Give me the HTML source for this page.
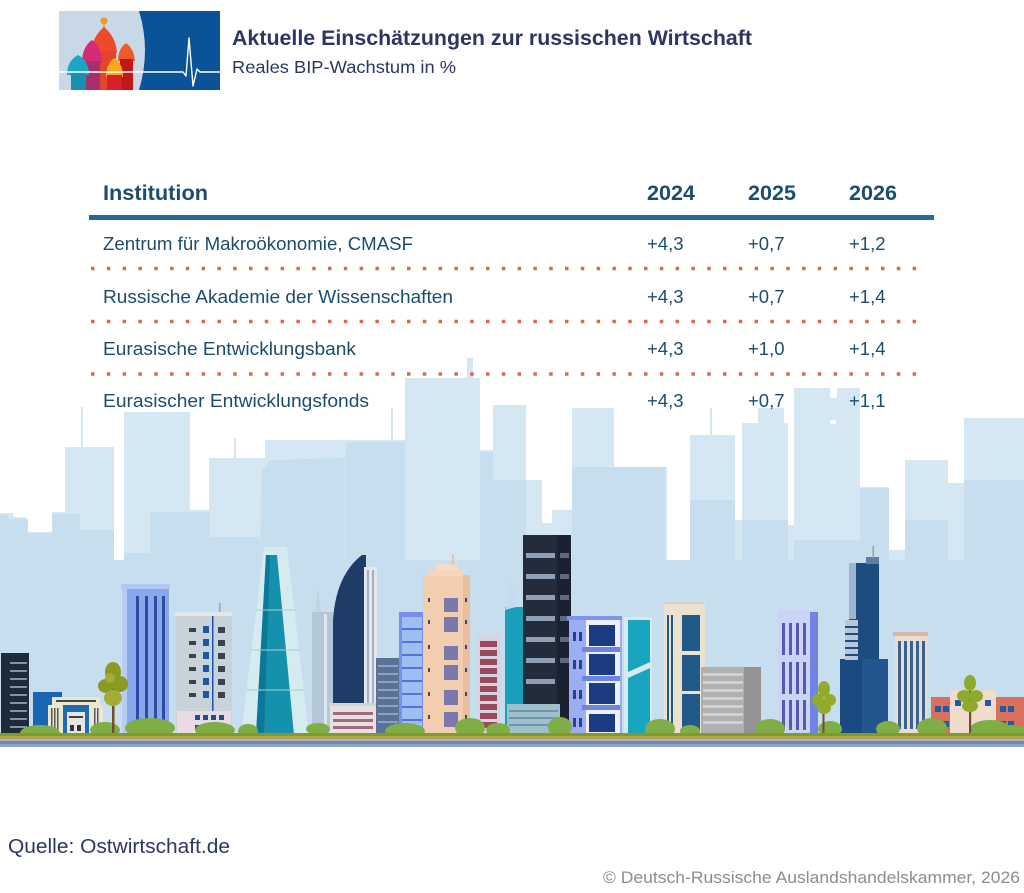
<!DOCTYPE html>
<html>
<head>
<meta charset="utf-8">
<style>
html,body{margin:0;padding:0;background:#fff;}
body{width:1024px;height:893px;overflow:hidden;}
svg{display:block;}
text{font-family:"Liberation Sans",Arial,sans-serif;}
</style>
</head>
<body>
<svg width="1024" height="893" viewBox="0 0 1024 893" xmlns="http://www.w3.org/2000/svg">
<rect width="1024" height="893" fill="#ffffff"/>

<!-- ===== Logo ===== -->
<defs>
<clipPath id="lc"><rect x="59" y="11" width="161" height="79"/></clipPath>
</defs>
<g clip-path="url(#lc)">
<rect x="59" y="11" width="161" height="79" fill="#0b5398"/>
<path d="M59,11 H139 Q151,50 139,90 H59 Z" fill="#c9d8e7"/>
<!-- tall red -->
<circle cx="104" cy="21" r="3.6" fill="#f39a2a"/>
<rect x="103.3" y="23" width="1.4" height="6" fill="#f39a2a"/>
<path d="M91,53 Q92,37 104,27 Q116,37 117,53 Z" fill="#ec4a2a"/>
<rect x="93" y="51" width="23" height="39" fill="#e2452b"/>
<!-- magenta -->
<path d="M82,63 Q82,47 92,40 Q102,47 102,63 Z" fill="#d42a78"/>
<rect x="84" y="61" width="16" height="29" fill="#a8306a"/>
<!-- teal -->
<path d="M67,75 Q67,61 78,55 Q89,61 89,75 Z" fill="#1aa6c4"/>
<rect x="71" y="73" width="15" height="17" fill="#1a8fb0"/>
<!-- right red -->
<path d="M118,61 Q118,49 126,43 Q134,49 135,61 Z" fill="#ef5a2a"/>
<rect x="120" y="59" width="13" height="31" fill="#c01818"/>
<!-- orange -->
<path d="M106,77 Q106,64 114.5,58 Q123,64 123,77 Z" fill="#f8a820"/>
<rect x="107" y="75" width="15" height="15" fill="#d8202a"/>
<!-- heartbeat -->
<polyline points="59,72 183,72 186,76 189,38 193,86 197,69 200,72 220,72" fill="none" stroke="#ffffff" stroke-width="1.4" stroke-linejoin="round"/>
</g>

<!-- ===== Title ===== -->
<text x="232" y="45" font-size="21" font-weight="bold" fill="#2e3563" textLength="520" lengthAdjust="spacingAndGlyphs">Aktuelle Einschätzungen zur russischen Wirtschaft</text>
<text x="232" y="73" font-size="17.5" fill="#2e3563" textLength="224" lengthAdjust="spacingAndGlyphs">Reales BIP-Wachstum in %</text>

<!-- ===== City background skyline ===== -->
<g fill="#d4e7f2">
<rect x="0" y="513" width="13" height="222"/>
<rect x="13" y="517" width="13" height="218"/>
<rect x="26" y="532" width="30" height="203"/>
<rect x="52" y="512" width="13" height="223"/>
<rect x="65" y="447" width="49" height="288"/>
<rect x="81" y="407" width="2" height="40"/>
<rect x="124" y="412" width="66" height="323"/>
<rect x="150" y="510" width="60" height="225"/>
<rect x="209" y="458" width="56" height="277"/>
<rect x="234" y="438" width="2" height="20"/>
<rect x="265" y="440" width="140" height="295"/>
<rect x="391" y="408" width="2" height="32"/>
<rect x="405" y="378" width="75" height="357"/>
<rect x="467" y="358" width="6" height="20"/>
<rect x="480" y="450" width="13" height="285"/>
<rect x="493" y="405" width="33" height="330"/>
<rect x="526" y="480" width="16" height="255"/>
<rect x="552" y="510" width="20" height="225"/>
<rect x="542" y="523" width="10" height="212"/>
<rect x="572" y="408" width="42" height="327"/>
<rect x="614" y="467" width="53" height="268"/>
<rect x="667" y="560" width="23" height="175"/>
<rect x="690" y="435" width="45" height="300"/>
<rect x="710" y="408" width="2" height="27"/>
<rect x="735" y="520" width="7" height="215"/>
<rect x="742" y="423" width="46" height="312"/>
<rect x="758" y="408" width="26" height="15"/>
<rect x="788" y="525" width="6" height="210"/>
<rect x="794" y="388" width="66" height="347"/>
<rect x="860" y="487" width="29" height="248"/>
<rect x="889" y="550" width="16" height="185"/>
<rect x="905" y="460" width="43" height="275"/>
<rect x="948" y="483" width="16" height="252"/>
<rect x="964" y="418" width="60" height="317"/>
</g>
<rect x="830" y="388" width="7" height="10" fill="#ffffff"/>
<rect x="830" y="420" width="6" height="4" fill="#ffffff"/>
<!-- darker front layer -->
<g fill="#c6deed">
<rect x="0" y="560" width="1024" height="175"/>
<rect x="0" y="515" width="8" height="50"/>
<rect x="8" y="519" width="20" height="50"/>
<rect x="28" y="533" width="24" height="30"/>
<rect x="52" y="514" width="28" height="50"/>
<rect x="80" y="530" width="34" height="35"/>
<rect x="124" y="553" width="26" height="10"/>
<rect x="150" y="512" width="60" height="50"/>
<rect x="210" y="537" width="50" height="30"/>
<polygon points="260,560 262,470 270,460 345,458 345,560"/>
<rect x="346" y="442" width="59" height="120"/>
<rect x="480" y="452" width="13" height="110"/>
<rect x="493" y="480" width="33" height="80"/>
<rect x="572" y="467" width="93" height="95"/>
<rect x="690" y="500" width="45" height="60"/>
<rect x="742" y="520" width="46" height="40"/>
<rect x="794" y="540" width="66" height="20"/>
<rect x="860" y="488" width="29" height="72"/>
<rect x="905" y="520" width="43" height="40"/>
<rect x="964" y="480" width="60" height="80"/>
</g>

<!-- ===== Foreground buildings ===== -->
<!-- 1 dark -->
<rect x="1" y="653" width="28" height="82" fill="#1f2a3a"/>
<g fill="#8294a8">
<rect x="10" y="662" width="17" height="2"/><rect x="10" y="670" width="17" height="2"/><rect x="10" y="678" width="17" height="2"/>
<rect x="10" y="686" width="17" height="2"/><rect x="10" y="694" width="17" height="2"/><rect x="10" y="702" width="17" height="2"/>
<rect x="10" y="710" width="17" height="2"/><rect x="10" y="718" width="17" height="2"/><rect x="10" y="726" width="17" height="2"/>
</g>
<!-- 2 blue -->
<rect x="33" y="692" width="29" height="43" fill="#1a66b4"/>
<!-- 3 cream low -->
<rect x="52" y="697" width="48" height="38" fill="#ebe8d0"/>
<rect x="48" y="705" width="55" height="30" fill="#ebe8d0"/>
<rect x="56" y="700" width="40" height="2" fill="#45484f"/>
<rect x="51" y="708" width="1.5" height="24" fill="#55585f"/><rect x="54" y="708" width="1.5" height="24" fill="#55585f"/><rect x="57" y="708" width="1.5" height="24" fill="#55585f"/>
<rect x="94" y="708" width="1.5" height="24" fill="#55585f"/><rect x="97" y="708" width="1.5" height="24" fill="#55585f"/>
<rect x="63" y="705" width="26" height="30" fill="#1e6db2"/>
<rect x="67" y="712" width="18" height="23" fill="#e6e6e0"/>
<rect x="69" y="716" width="14" height="2" fill="#3a3d44"/>
<rect x="70" y="725" width="4" height="6" fill="#33363c"/><rect x="77" y="725" width="4" height="6" fill="#33363c"/>
<!-- 5 blue tall -->
<rect x="122" y="586" width="47" height="149" fill="#8ba7ec"/>
<rect x="121" y="584" width="49" height="5" fill="#b2c6f4"/>
<rect x="122" y="589" width="5" height="146" fill="#b8cbf5"/>
<g fill="#2a4ea4">
<rect x="136" y="596" width="3" height="136"/><rect x="145" y="596" width="3" height="136"/>
<rect x="154" y="596" width="3" height="136"/><rect x="162" y="596" width="3" height="136"/>
</g>
<!-- 6 grey windows -->
<rect x="176" y="615" width="56" height="120" fill="#c7d2d9"/>
<rect x="175" y="612" width="57" height="4" fill="#e2e8ec"/>
<rect x="219" y="603" width="1.5" height="9" fill="#9aa4ad"/>
<rect x="212" y="616" width="1.5" height="95" fill="#1b57a6"/>
<g>
<rect x="189" y="628" width="7" height="4" fill="#3c424b"/><rect x="203" y="626" width="6" height="7" fill="#1b57a6"/><rect x="218" y="627" width="7" height="6" fill="#3a4350"/>
<rect x="189" y="641" width="7" height="4" fill="#3c424b"/><rect x="203" y="639" width="6" height="7" fill="#1b57a6"/><rect x="218" y="640" width="7" height="6" fill="#3a4350"/>
<rect x="189" y="654" width="7" height="4" fill="#3c424b"/><rect x="203" y="652" width="6" height="7" fill="#1b57a6"/><rect x="218" y="653" width="7" height="6" fill="#3a4350"/>
<rect x="189" y="667" width="7" height="4" fill="#3c424b"/><rect x="203" y="665" width="6" height="7" fill="#1b57a6"/><rect x="218" y="666" width="7" height="6" fill="#3a4350"/>
<rect x="189" y="680" width="7" height="4" fill="#3c424b"/><rect x="203" y="678" width="6" height="7" fill="#1b57a6"/><rect x="218" y="679" width="7" height="6" fill="#3a4350"/>
<rect x="189" y="693" width="7" height="4" fill="#3c424b"/><rect x="203" y="691" width="6" height="7" fill="#1b57a6"/><rect x="218" y="692" width="7" height="6" fill="#3a4350"/>
</g>
<rect x="177" y="711" width="54" height="24" fill="#e9dbe4"/>
<g fill="#1c4f9a">
<rect x="195" y="715" width="5" height="5"/><rect x="203" y="715" width="5" height="5"/><rect x="211" y="715" width="5" height="5"/><rect x="219" y="715" width="5" height="5"/>
<rect x="195" y="725" width="5" height="5"/><rect x="203" y="725" width="5" height="5"/><rect x="211" y="725" width="5" height="5"/><rect x="219" y="725" width="5" height="5"/>
</g>
<!-- 7 teal glass tower -->
<polygon points="241,735 264,547 287,547 309,735" fill="#d6ebf0"/>
<polygon points="256,735 266,555 277,555 294,735" fill="#1591ae"/>
<polygon points="256,735 266,555 270,555 264,735" fill="#0c7897"/>
<g stroke="#9fd2df" stroke-width="1">
<line x1="250" y1="650" x2="300" y2="650"/><line x1="246" y1="690" x2="304" y2="690"/><line x1="256" y1="610" x2="295" y2="610"/>
</g>
<!-- 8 slim grey -->
<rect x="312" y="612" width="21" height="123" fill="#b4c7d7"/>
<polygon points="315,612 318,588 321,612" fill="#c5d3e0"/>
<rect x="324" y="614" width="3" height="120" fill="#dce6ee"/>
<!-- 9 dark curved -->
<path d="M333,735 V620 Q336,575 362,555 H366 V735 Z" fill="#1e3c67"/>
<rect x="364" y="567" width="13" height="150" fill="#e4e8ee"/>
<rect x="367" y="570" width="2" height="140" fill="#a5b0bd"/>
<rect x="372" y="570" width="2" height="140" fill="#a5b0bd"/>
<!-- 10 low pink -->
<rect x="329" y="703" width="49" height="3" fill="#d0d5db"/>
<rect x="330" y="706" width="47" height="29" fill="#e8e0e0"/>
<g fill="#9d6c7b"><rect x="333" y="712" width="40" height="3"/><rect x="333" y="719" width="40" height="3"/><rect x="333" y="726" width="40" height="3"/></g>
<!-- 11 blue grey -->
<rect x="376" y="658" width="24" height="77" fill="#5a7298"/>
<g fill="#8ea2c0">
<rect x="378" y="665" width="20" height="2"/><rect x="378" y="673" width="20" height="2"/><rect x="378" y="681" width="20" height="2"/>
<rect x="378" y="689" width="20" height="2"/><rect x="378" y="697" width="20" height="2"/><rect x="378" y="705" width="20" height="2"/>
<rect x="378" y="713" width="20" height="2"/><rect x="378" y="721" width="20" height="2"/>
</g>
<!-- 12 purple blue -->
<rect x="399" y="612" width="29" height="123" fill="#7a8def"/>
<rect x="402" y="617" width="20" height="115" fill="#9cc0ee"/>
<g fill="#5a6ee0">
<rect x="402" y="628" width="20" height="2"/><rect x="402" y="641" width="20" height="2"/><rect x="402" y="654" width="20" height="2"/>
<rect x="402" y="667" width="20" height="2"/><rect x="402" y="680" width="20" height="2"/><rect x="402" y="693" width="20" height="2"/>
<rect x="402" y="706" width="20" height="2"/><rect x="402" y="719" width="20" height="2"/>
</g>
<!-- 13 peach -->
<rect x="423" y="575" width="47" height="160" fill="#f2cdb0"/>
<rect x="429" y="569" width="35" height="7" fill="#f4d6bd"/>
<rect x="436" y="564" width="21" height="6" fill="#f6dcc6"/>
<rect x="452" y="554" width="2" height="11" fill="#e9c3a5"/>
<rect x="463" y="575" width="7" height="160" fill="#e9bfa0"/>
<g fill="#7b78ac">
<rect x="444" y="598" width="14" height="14"/><rect x="444" y="617" width="14" height="15"/><rect x="444" y="646" width="14" height="14"/>
<rect x="444" y="665" width="14" height="15"/><rect x="444" y="690" width="14" height="15"/><rect x="444" y="712" width="14" height="15"/>
</g>
<g fill="#3d4a6a">
<rect x="428" y="598" width="2" height="4"/><rect x="428" y="620" width="2" height="4"/><rect x="428" y="645" width="2" height="4"/><rect x="428" y="668" width="2" height="4"/><rect x="428" y="692" width="2" height="4"/><rect x="428" y="715" width="2" height="4"/>
<rect x="465" y="598" width="2" height="4"/><rect x="465" y="620" width="2" height="4"/><rect x="465" y="645" width="2" height="4"/><rect x="465" y="668" width="2" height="4"/><rect x="465" y="692" width="2" height="4"/><rect x="465" y="715" width="2" height="4"/>
</g>
<!-- 14 maroon -->
<rect x="477" y="635" width="23" height="100" fill="#d8d3e3"/>
<g fill="#9a4b5b">
<rect x="480" y="641" width="17" height="6"/><rect x="480" y="650" width="17" height="6"/><rect x="480" y="659" width="17" height="6"/>
<rect x="480" y="668" width="17" height="6"/><rect x="480" y="677" width="17" height="6"/><rect x="480" y="686" width="17" height="6"/>
<rect x="480" y="695" width="17" height="6"/><rect x="480" y="704" width="17" height="6"/><rect x="480" y="713" width="17" height="6"/>
<rect x="480" y="722" width="17" height="6"/>
</g>
<!-- 15 teal -->
<rect x="505" y="607" width="35" height="128" fill="#1b9fba"/>
<polygon points="505,610 511,582 516,607" fill="#c8d8f0"/>
<!-- 16 dark tower -->
<rect x="523" y="535" width="48" height="200" fill="#232c3b"/>
<rect x="557" y="535" width="14" height="200" fill="#1b2130"/>
<g fill="#8d9fb5">
<rect x="526" y="553" width="29" height="5"/><rect x="526" y="574" width="29" height="5"/><rect x="526" y="595" width="29" height="5"/>
<rect x="526" y="616" width="29" height="5"/><rect x="526" y="637" width="29" height="5"/><rect x="526" y="658" width="29" height="5"/>
<rect x="526" y="679" width="29" height="5"/>
</g>
<g fill="#5d6b80">
<rect x="560" y="553" width="9" height="5"/><rect x="560" y="574" width="9" height="5"/><rect x="560" y="595" width="9" height="5"/>
<rect x="560" y="616" width="9" height="5"/><rect x="560" y="637" width="9" height="5"/><rect x="560" y="658" width="9" height="5"/>
</g>
<!-- 17 low teal grey -->
<rect x="507" y="704" width="53" height="31" fill="#9fbfcd"/>
<g fill="#6f97ab"><rect x="509" y="710" width="49" height="2"/><rect x="509" y="717" width="49" height="2"/><rect x="509" y="724" width="49" height="2"/></g>
<!-- 18 purple balconies -->
<rect x="569" y="619" width="53" height="116" fill="#9cadf2"/>
<rect x="567" y="616" width="55" height="4" fill="#7f93ee"/>
<rect x="586" y="620" width="34" height="115" fill="#eef0fb"/>
<g fill="#1c3c82">
<rect x="589" y="625" width="26" height="21"/><rect x="589" y="654" width="26" height="21"/><rect x="589" y="683" width="26" height="21"/><rect x="589" y="714" width="26" height="18"/>
</g>
<g fill="#6c83e8"><rect x="582" y="647" width="38" height="5"/><rect x="582" y="676" width="38" height="5"/><rect x="582" y="705" width="38" height="5"/></g>
<g fill="#2a3f8f">
<rect x="573" y="632" width="3" height="9"/><rect x="579" y="632" width="3" height="9"/>
<rect x="573" y="660" width="3" height="9"/><rect x="579" y="660" width="3" height="9"/>
<rect x="573" y="690" width="3" height="9"/><rect x="579" y="690" width="3" height="9"/>
<rect x="573" y="718" width="3" height="9"/><rect x="579" y="718" width="3" height="9"/>
</g>
<!-- 19 teal glass -->
<rect x="624" y="617" width="28" height="118" fill="#d7e9ef"/>
<rect x="628" y="620" width="22" height="115" fill="#18a5bf"/>
<polygon points="628,672 650,662 650,668 628,678" fill="#d7e9ef"/>
<!-- 20 cream -->
<rect x="666" y="602" width="37" height="3" fill="#ddd0c0"/>
<rect x="664" y="604" width="41" height="131" fill="#ece0cf"/>
<g fill="#1f5a89">
<rect x="682" y="615" width="18" height="36"/><rect x="682" y="655" width="18" height="36"/><rect x="682" y="694" width="18" height="38"/>
<rect x="667" y="615" width="2" height="115"/><rect x="671" y="615" width="2" height="115"/>
</g>
<!-- 21 grey low -->
<rect x="701" y="667" width="60" height="68" fill="#b0b0b2"/>
<rect x="744" y="667" width="17" height="68" fill="#939396"/>
<g fill="#d0d0d2">
<rect x="703" y="673" width="40" height="3"/><rect x="703" y="681" width="40" height="3"/><rect x="703" y="689" width="40" height="3"/>
<rect x="703" y="697" width="40" height="3"/><rect x="703" y="705" width="40" height="3"/><rect x="703" y="713" width="40" height="3"/>
<rect x="703" y="721" width="40" height="3"/>
</g>
<!-- 22 light purple -->
<rect x="778" y="610" width="40" height="125" fill="#c9d4f7"/>
<rect x="810" y="612" width="8" height="123" fill="#7183e2"/>
<g fill="#5659ad">
<rect x="782" y="623" width="3" height="32"/><rect x="789" y="623" width="3" height="32"/><rect x="796" y="623" width="3" height="32"/><rect x="803" y="623" width="3" height="32"/>
<rect x="782" y="662" width="3" height="32"/><rect x="789" y="662" width="3" height="32"/><rect x="796" y="662" width="3" height="32"/><rect x="803" y="662" width="3" height="32"/>
<rect x="782" y="700" width="3" height="30"/><rect x="789" y="700" width="3" height="30"/><rect x="796" y="700" width="3" height="30"/><rect x="803" y="700" width="3" height="30"/>
</g>
<!-- 24 dark blue tower -->
<rect x="840" y="659" width="48" height="76" fill="#23568f"/>
<rect x="840" y="659" width="22" height="76" fill="#1b4a80"/>
<rect x="849" y="563" width="30" height="96" fill="#1f4c7f"/>
<rect x="849" y="563" width="7" height="56" fill="#9eb6d2"/>
<rect x="866" y="557" width="13" height="7" fill="#5d7ea5"/>
<rect x="872.5" y="546" width="1.5" height="12" fill="#8da0b8"/>
<rect x="845" y="620" width="13" height="40" fill="#b7c8dc"/>
<g fill="#1f4c7f"><rect x="845" y="626" width="13" height="2"/><rect x="845" y="633" width="13" height="2"/><rect x="845" y="640" width="13" height="2"/><rect x="845" y="647" width="13" height="2"/><rect x="845" y="654" width="13" height="2"/></g>
<!-- 25 cream striped -->
<rect x="893" y="632" width="35" height="4" fill="#d5b9a8"/>
<rect x="895" y="636" width="32" height="99" fill="#e9dcd1"/>
<g fill="#36648e">
<rect x="898" y="641" width="3" height="88"/><rect x="904" y="641" width="3" height="88"/><rect x="910" y="641" width="3" height="88"/><rect x="916" y="641" width="3" height="88"/><rect x="922" y="641" width="3" height="88"/>
</g>
<!-- 26 red -->
<rect x="931" y="697" width="93" height="38" fill="#d9705d"/>
<rect x="950" y="690" width="46" height="45" fill="#efdccc"/>
<g fill="#1f5ba5">
<rect x="935" y="706" width="6" height="6"/><rect x="943" y="706" width="6" height="6"/><rect x="935" y="721" width="6" height="6"/><rect x="943" y="721" width="6" height="6"/>
<rect x="1000" y="706" width="6" height="6"/><rect x="1008" y="706" width="6" height="6"/><rect x="1000" y="721" width="6" height="6"/><rect x="1008" y="721" width="6" height="6"/>
<rect x="955" y="700" width="6" height="6"/><rect x="985" y="700" width="6" height="6"/>
</g>

<!-- bushes -->
<g fill="#80ae46">
<ellipse cx="40" cy="733" rx="20" ry="8"/><ellipse cx="105" cy="730" rx="15" ry="8"/><ellipse cx="150" cy="728" rx="25" ry="10"/>
<ellipse cx="215" cy="730" rx="20" ry="8"/><ellipse cx="248" cy="731" rx="10" ry="7"/><ellipse cx="318" cy="729" rx="12" ry="6"/>
<ellipse cx="405" cy="731" rx="20" ry="8"/><ellipse cx="470" cy="728" rx="15" ry="10"/><ellipse cx="498" cy="730" rx="12" ry="7"/>
<ellipse cx="560" cy="727" rx="12" ry="10"/><ellipse cx="660" cy="729" rx="15" ry="10"/><ellipse cx="690" cy="731" rx="10" ry="6"/>
<ellipse cx="770" cy="729" rx="15" ry="10"/><ellipse cx="830" cy="729" rx="12" ry="8"/><ellipse cx="888" cy="729" rx="12" ry="8"/>
<ellipse cx="932" cy="728" rx="15" ry="10"/><ellipse cx="990" cy="729" rx="20" ry="9"/><ellipse cx="1012" cy="731" rx="15" ry="6"/>
</g>

<!-- trees -->
<rect x="112" y="688" width="2.5" height="47" fill="#7b4a28"/>
<g fill="#8b9a22">
<ellipse cx="113" cy="672" rx="8" ry="10"/><ellipse cx="106" cy="686" rx="8" ry="7"/><ellipse cx="120" cy="684" rx="8" ry="8"/>
</g>
<g fill="#a3ad35"><ellipse cx="113" cy="698" rx="9" ry="8"/><ellipse cx="110" cy="678" rx="5" ry="5"/></g>
<rect x="822.5" y="700" width="2" height="35" fill="#7b4a28"/>
<g fill="#92ab2c"><ellipse cx="824" cy="689" rx="6" ry="8"/><ellipse cx="818" cy="700" rx="6" ry="6"/><ellipse cx="830" cy="700" rx="6" ry="6"/><ellipse cx="824" cy="708" rx="7" ry="6"/></g>
<rect x="969" y="690" width="2.2" height="45" fill="#7b4a28"/>
<g fill="#8eaa2c"><ellipse cx="970" cy="683" rx="6" ry="8"/><ellipse cx="964" cy="696" rx="7" ry="6"/><ellipse cx="976" cy="696" rx="7" ry="6"/><ellipse cx="970" cy="706" rx="8" ry="6"/></g>

<!-- ground -->
<rect x="0" y="733" width="1024" height="3" fill="#7f9a2e"/>
<rect x="0" y="736" width="1024" height="3" fill="#b3a445"/>
<rect x="0" y="739" width="1024" height="2" fill="#a5b5cf"/>
<rect x="0" y="741" width="1024" height="3" fill="#6f87ad"/>
<rect x="0" y="744" width="1024" height="3" fill="#8ea3c4"/>

<!-- ===== Table ===== -->
<text x="103" y="200" font-size="21.5" font-weight="bold" fill="#1b4d6e" textLength="105" lengthAdjust="spacingAndGlyphs">Institution</text>
<text x="647" y="200" font-size="21.5" font-weight="bold" fill="#1b4d6e" textLength="48" lengthAdjust="spacingAndGlyphs">2024</text>
<text x="748" y="200" font-size="21.5" font-weight="bold" fill="#1b4d6e" textLength="48" lengthAdjust="spacingAndGlyphs">2025</text>
<text x="849" y="200" font-size="21.5" font-weight="bold" fill="#1b4d6e" textLength="48" lengthAdjust="spacingAndGlyphs">2026</text>
<rect x="89" y="215" width="845" height="5" fill="#2b6794"/>

<g font-size="18.5" fill="#1b4d6e">
<text x="103" y="250" textLength="310" lengthAdjust="spacingAndGlyphs">Zentrum für Makroökonomie, CMASF</text>
<text x="647" y="250">+4,3</text><text x="748" y="250">+0,7</text><text x="849" y="250">+1,2</text>
<text x="103" y="303" textLength="350" lengthAdjust="spacingAndGlyphs">Russische Akademie der Wissenschaften</text>
<text x="647" y="303">+4,3</text><text x="748" y="303">+0,7</text><text x="849" y="303">+1,4</text>
<text x="103" y="355" textLength="253" lengthAdjust="spacingAndGlyphs">Eurasische Entwicklungsbank</text>
<text x="647" y="355">+4,3</text><text x="748" y="355">+1,0</text><text x="849" y="355">+1,4</text>
<text x="103" y="407" textLength="266" lengthAdjust="spacingAndGlyphs">Eurasischer Entwicklungsfonds</text>
<text x="647" y="407">+4,3</text><text x="748" y="407">+0,7</text><text x="849" y="407">+1,1</text>
</g>
<g stroke="#d86a50" stroke-width="3.5" stroke-dasharray="3.5 12.3">
<line x1="91" y1="268.5" x2="928" y2="268.5"/>
<line x1="91" y1="321.5" x2="928" y2="321.5"/>
<line x1="91" y1="374" x2="928" y2="374"/>
</g>

<!-- ===== Footer ===== -->
<text x="8" y="853" font-size="20.5" fill="#2e3563" textLength="222" lengthAdjust="spacingAndGlyphs">Quelle: Ostwirtschaft.de</text>
<text x="603" y="883" font-size="17" fill="#8d8d8d" textLength="417" lengthAdjust="spacingAndGlyphs">© Deutsch-Russische Auslandshandelskammer, 2026</text>
</svg>
</body>
</html>
